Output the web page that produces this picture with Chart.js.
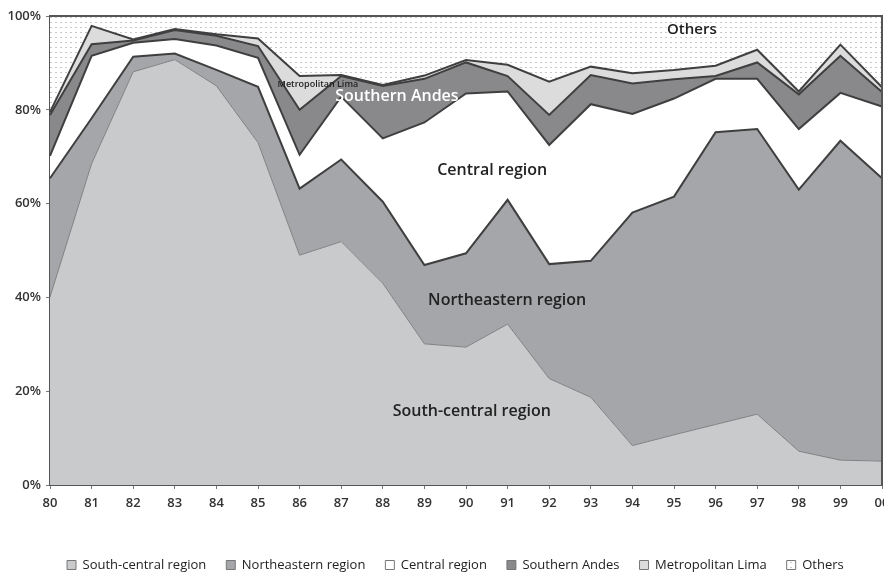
<!DOCTYPE html>
<html><head><meta charset="utf-8">
<script src="https://cdn.jsdelivr.net/npm/chart.js@4"></script>
<style>html,body{margin:0;padding:0;background:#fff}#wrap{width:884px;height:573px;position:relative}</style>
</head><body><div id="wrap"><canvas id="c" width="884" height="573"></canvas></div>
<script>
const years = ['80','81','82','83','84','85','86','87','88','89','90','91','92','93','94','95','96','97','98','99','00'];
const seriesNames = ['South-central region','Northeastern region','Central region','Southern Andes','Metropolitan Lima','Others'];
const southCentral = [40.1,68.5,88.1,90.7,85.1,73.0,49.0,51.9,43.0,30.1,29.4,34.3,22.7,18.7,8.4,10.7,12.9,15.1,7.2,5.3,5.1];
const northeastern = [25.3,9.7,3.2,1.3,3.4,11.9,14.2,17.5,17.4,16.8,20.0,26.5,24.4,29.1,49.7,50.8,62.3,60.8,55.8,68.1,60.3];
const central      = [4.8,13.3,3.0,3.1,5.2,6.2,7.2,13.4,13.5,30.4,34.1,23.1,25.4,33.4,21.0,20.9,11.4,10.7,12.9,10.2,15.3];
const southernAndes= [8.7,2.5,0.5,1.9,2.1,2.5,9.6,4.4,11.2,9.3,6.6,3.3,6.4,6.2,6.5,4.1,0.6,3.5,7.4,7.9,3.1];
const metroLima    = [0.6,3.9,0.2,0.2,0.3,1.6,7.2,0.2,0.2,0.7,0.5,2.4,7.1,1.8,2.2,2.0,2.2,2.7,0.6,2.4,1.0];
const others       = [20.5,2.1,5.0,2.8,3.9,4.8,12.8,12.6,14.7,12.7,9.4,10.4,14.0,10.8,12.2,11.5,10.6,7.2,16.1,6.1,15.2];
const yTicks = [0,20,40,60,80,100];
const areaLabels = [
  {text:'Others', x:15.43, y:97.0, size:15, weight:'600', color:'#222'},
  {text:'Metropolitan Lima', x:6.44, y:85.4, size:9, weight:'600', color:'#222'},
  {text:'Southern Andes', x:8.34, y:82.9, size:16, weight:'600', color:'#fff'},
  {text:'Central region', x:10.63, y:67.0, size:16, weight:'600', color:'#222'},
  {text:'Northeastern region', x:10.99, y:39.4, size:16, weight:'600', color:'#222'},
  {text:'South-central region', x:10.14, y:15.6, size:16, weight:'600', color:'#222'}
];

const canvas = document.getElementById('c');
const ctx = canvas.getContext('2d');
const pc = document.createElement('canvas'); pc.width = 5; pc.height = 5;
const pg = pc.getContext('2d');
pg.fillStyle = '#fff'; pg.fillRect(0,0,5,5);
pg.fillStyle = '#c8c8c8'; pg.fillRect(0,2,2,1);
const dotted = ctx.createPattern(pc,'repeat');

const fills = ['#c9cacc','#a5a6a9','#ffffff','#89898b','#dcdcdd',dotted];
const lines = ['#808080','#3f3f3f','#3f3f3f','#3f3f3f','#3f3f3f','rgba(0,0,0,0)'];
const widths = [1,2,2,2,2,0];
const values = [southCentral,northeastern,central,southernAndes,metroLima,others];

const datasets = values.map((v,i)=>({
  label: seriesNames[i], data: v, backgroundColor: fills[i], borderColor: lines[i],
  borderWidth: widths[i], fill: i===0 ? 'origin' : '-1', pointRadius: 0, tension: 0
}));

const FONT = "'Open Sans', sans-serif";
const LEG_PAD = 20;
const labelPlugin = {
  id:'areaLabels',
  beforeLayout(chart){
    const lg = chart.legend;
    if (lg && !lg._wrapped){
      const f = lg.fit;
      lg.fit = function(){ f.call(this); this.height = 20; };
      lg._wrapped = true;
    }
  },
  afterLayout(chart){
    const lg = chart.legend;
    if (lg){ lg.top = 565 - LEG_PAD - 6.5; lg.left = 67 - LEG_PAD; }
  },
  afterDatasetsDraw(chart){
    const c = chart.ctx, a = chart.chartArea, xs = chart.scales.x, ys = chart.scales.y;
    c.save();
    c.strokeStyle = '#555'; c.lineWidth = 2;
    c.beginPath(); c.moveTo(a.left, a.top); c.lineTo(a.right, a.top); c.lineTo(a.right, a.bottom); c.stroke();
    c.textAlign = 'center'; c.textBaseline = 'middle';
    areaLabels.forEach(l=>{
      c.font = l.weight + ' ' + l.size + 'px ' + FONT;
      c.fillStyle = l.color;
      c.fillText(l.text, xs.getPixelForValue(l.x), ys.getPixelForValue(l.y));
    });
    c.restore();
  }
};

new Chart(canvas, {
  type:'line',
  data:{labels: years, datasets},
  plugins:[labelPlugin],
  options:{
    responsive:false, animation:false, devicePixelRatio:1,
    layout:{padding:{top:16,right:2,left:0,bottom:0}},
    plugins:{
      tooltip:{enabled:false},
      legend:{position:'bottom', align:'start',
        labels:{boxWidth:9, boxHeight:9, padding:LEG_PAD, color:'#222', font:{family:FONT, size:13},
          generateLabels(chart){
            const items = Chart.defaults.plugins.legend.labels.generateLabels(chart);
            items.forEach(it=>{ it.strokeStyle = '#777'; it.lineWidth = 1; });
            return items;
          }
        }
      }
    },
    scales:{
      x:{
        offset:false,
        grid:{display:true, drawOnChartArea:false, drawTicks:true, tickLength:4, color:'#777'},
        border:{display:true, color:'#555', width:2},
        ticks:{color:'#333', padding:6, maxRotation:0, autoSkip:false, font:{family:FONT, size:13, weight:'600'}},
        afterFit(s){ s.height = 68; s.paddingLeft = 0; s.paddingRight = 0; }
      },
      y:{
        stacked:true, min:0, max:100,
        afterBuildTicks(s){ s.ticks = yTicks.map(v=>({value:v})); },
        grid:{display:true, drawOnChartArea:false, drawTicks:true, tickLength:4, color:'#777'},
        border:{display:true, color:'#555', width:2},
        ticks:{color:'#333', padding:5, callback:v=>v+'%', font:{family:FONT, size:13, weight:'600'}},
        afterFit(s){ s.width = 50; s.paddingTop = 0; s.paddingBottom = 0; }
      }
    }
  }
});
</script></body></html>
